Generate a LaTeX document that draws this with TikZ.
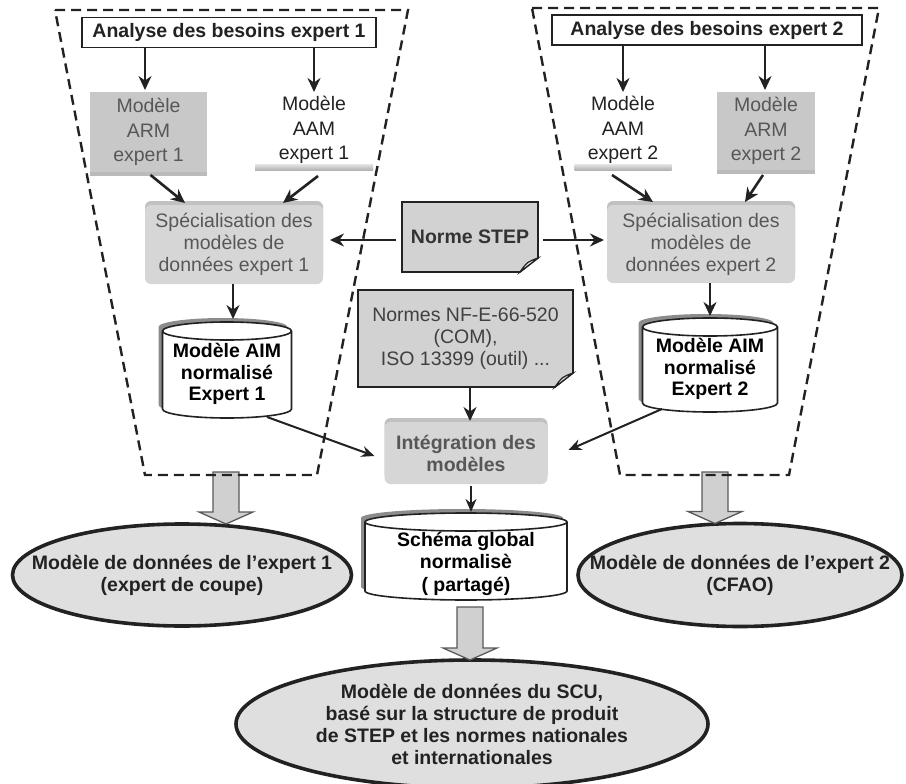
\documentclass[tikz,border=0pt]{standalone}
\usepackage{fontspec}
\setmainfont{Liberation Sans}
\usetikzlibrary{arrows.meta,shapes.geometric,shadows,backgrounds,calc}

\definecolor{ink}{HTML}{222222}
\definecolor{softtext}{HTML}{575757}
\definecolor{armfill}{HTML}{C8C8C8}
\definecolor{boxfill}{HTML}{D6D6D6}
\definecolor{notefill}{HTML}{D2D2D2}
\definecolor{ovalfill}{HTML}{DFDFDF}
\definecolor{fatfill}{HTML}{D0D0D0}
\definecolor{dbshadow}{HTML}{8C8C8C}

% database cylinder drawn from the anchors of an empty node: #1 node, #2 x radius, #3 y radius
\newcommand\dbshape[3]{%
  \begin{scope}[transform canvas={xshift=-4pt,yshift=4pt}]
    \fill[dbshadow] ([yshift=-#3]#1.north west) -- ([yshift=#3]#1.south west)
      arc[start angle=180,end angle=360,x radius=#2,y radius=#3]
      -- ([yshift=-#3]#1.north east)
      arc[start angle=0,end angle=180,x radius=#2,y radius=#3] -- cycle;
  \end{scope}
  \path[dbline] ([yshift=-#3]#1.north west) -- ([yshift=#3]#1.south west)
    arc[start angle=180,end angle=360,x radius=#2,y radius=#3]
    -- ([yshift=-#3]#1.north east)
    arc[start angle=0,end angle=180,x radius=#2,y radius=#3] -- cycle;
  \draw[dbline,fill=none] ([yshift=-#3]#1.north west)
    arc[start angle=180,end angle=360,x radius=#2,y radius=#3];
}

% sheet with a folded lower right corner
\newcommand\noteshape[1]{%
  \path[notesty] (#1.north west) -- (#1.north east) -- ([yshift=14pt]#1.south east)
    -- ([xshift=-18pt]#1.south east) -- (#1.south west) -- cycle;
  \path[foldsty] ([xshift=-18pt]#1.south east)
    .. controls ([xshift=-11pt,yshift=10pt]#1.south east) .. ([yshift=14pt]#1.south east) -- cycle;
}

% wide hollow arrow from coordinate #1 down to the level of point #2
\newcommand\fatarrow[2]{%
  \path[fatarr] let \p1=(#1), \p2=(#2) in
    (\x1-13pt,\y1) -- (\x1+13pt,\y1) -- (\x1+13pt,\y2+12pt) -- (\x1+27pt,\y2+12pt)
    -- (\x1,\y2) -- (\x1-27pt,\y2+12pt) -- (\x1-13pt,\y2+12pt) -- cycle;
}

\begin{document}
\begin{tikzpicture}[x=1pt,y=-1pt,
  every node/.style={inner sep=0pt,outer sep=0pt},
  headbox/.style={draw=ink,line width=1.8pt,fill=white,minimum height=30pt,
    font=\fontsize{19.5}{22}\selectfont\bfseries,text=ink},
  armbox/.style={fill=armfill,text=softtext,align=center,
    font=\fontsize{19.5}{24.5}\selectfont,
    drop shadow={shadow xshift=0pt,shadow yshift=-4pt,fill=black!45,opacity=.6}},
  aambox/.style={text=ink,align=center,font=\fontsize{19.5}{24.5}\selectfont},
  specbox/.style={fill=boxfill,rounded corners=6pt,text=softtext,align=center,
    font=\fontsize{19.5}{22}\selectfont,
    drop shadow={shadow xshift=0pt,shadow yshift=4pt,fill=black!40,opacity=.6}},
  intbox/.style={specbox,font=\fontsize{19.5}{22}\selectfont\bfseries},
  notetext/.style={align=center,text=ink,font=\fontsize{19.5}{22}\selectfont},
  notesty/.style={draw=ink,line width=1.6pt,fill=notefill},
  foldsty/.style={draw=ink,line width=1.2pt,fill=white!85!gray},
  dbline/.style={draw=ink,line width=1.6pt,fill=white},
  dbtext/.style={align=center,text=black,font=\fontsize{19.5}{21.5}\selectfont\bfseries},
  oval/.style={ellipse,draw=ink,line width=3.6pt,fill=ovalfill,inner sep=-40pt,
    align=center,text=ink,font=\fontsize{19.5}{22}\selectfont\bfseries},
  arr/.style={draw=ink,line width=2.6pt,-{Stealth[length=14pt,width=13pt]}},
  thinarr/.style={draw=ink,line width=2pt,-{Stealth[length=13pt,width=11pt]}},
  trap/.style={draw=ink,line width=2.4pt,dash pattern=on 10pt off 6pt},
  fatarr/.style={draw=black!65,line width=1.3pt,fill=fatfill}
]
\useasboundingbox (0,0) rectangle (906,784);
\begin{scope}[on background layer]
  \fill[white] (0,0) rectangle (906,784);
\end{scope}

% ---------- expert 1 ----------
\node[headbox,minimum width=294pt] (a1) at (229,32.5) {Analyse des besoins expert 1};
\node[armbox,minimum width=117pt,minimum height=80pt] (arm1) at (148.5,132) {Modèle\\ARM\\expert 1};
\node[aambox,minimum width=118pt,minimum height=80pt] (aam1) at (314,130) {Modèle\\AAM\\expert 1};
\shade[top color=gray!20,bottom color=gray!60] ([yshift=6pt]aam1.south west) rectangle (aam1.south east);
\node[specbox,minimum width=178pt,minimum height=79pt] (spec1) at (234,244.5)
  {Spécialisation des\\modèles de\\données expert 1};
\node[minimum width=129pt,minimum height=96pt] (cyl1) at (227,370) {};
\dbshape{cyl1}{64.5pt}{9pt}
\node[dbtext] (cyl1t) at ([yshift=-4pt]cyl1.center) {Modèle AIM\\normalisé\\Expert 1};

% ---------- expert 2 ----------
\node[headbox,minimum width=310pt] (a2) at (707,30) {Analyse des besoins expert 2};
\node[aambox,minimum width=97pt,minimum height=80pt] (aam2) at (623,130) {Modèle\\AAM\\expert 2};
\shade[top color=gray!20,bottom color=gray!60] ([yshift=6pt]aam2.south west) rectangle (aam2.south east);
\node[armbox,minimum width=98pt,minimum height=78pt] (arm2) at (766,131) {Modèle\\ARM\\expert 2};
\node[specbox,minimum width=188pt,minimum height=78pt] (spec2) at (701,244)
  {Spécialisation des\\modèles de\\données expert 2};
\node[minimum width=135pt,minimum height=94pt] (cyl2) at (710,365) {};
\dbshape{cyl2}{67.5pt}{9pt}
\node[dbtext] (cyl2t) at ([yshift=-4pt]cyl2.center) {Modèle AIM\\normalisé\\Expert 2};

% ---------- shared standards and integration ----------
\node[notetext,minimum width=136pt,minimum height=70pt,font=\fontsize{19.5}{22}\selectfont\bfseries,text=black!80]
  (step) at (470,237) {Norme STEP};
\node[notetext,minimum width=215pt,minimum height=97pt,text=black!75] (nf) at (465.5,338.5)
  {Normes NF-E-66-520\\(COM),\\ISO 13399 (outil) ...};
\begin{scope}[on background layer]
  \noteshape{step}
  \noteshape{nf}
\end{scope}
\node[intbox,minimum width=163pt,minimum height=62pt] (integ) at (466,453) {Intégration des\\modèles};
\node[minimum width=202pt,minimum height=87pt] (cyl0) at (466,556.5) {};
\dbshape{cyl0}{101pt}{9pt}
\node[dbtext,font=\fontsize{19.5}{22.5}\selectfont\bfseries] (cyl0t) at ([yshift=-7pt]cyl0.center)
  {Schéma global\\normalisè\\( partagé)};

% ---------- resulting data models ----------
\node[oval,minimum width=339pt,minimum height=102pt] (e1) at (182,575)
  {Modèle de données de l’expert 1\\(expert de coupe)};
\node[oval,minimum width=324pt,minimum height=103pt] (e2) at (740,575)
  {Modèle de données de l’expert 2\\(CFAO)};
\node[oval,minimum width=472pt,minimum height=128pt] (e3) at (472,724)
  {Modèle de données du SCU,\\basé sur la structure de produit\\de STEP et les normes nationales\\et internationales};

% ---------- wide hollow arrows ----------
\coordinate (fa1) at (226,472);
\coordinate (fa2) at (715,472);
\coordinate (fa0) at (470,607);
\fatarrow{fa1}{e1.north}
\fatarrow{fa2}{e2.north}
\fatarrow{fa0}{e3.north}

% ---------- dashed expert domains ----------
\draw[trap] (55,10) -- (408,10) -- (317,475) -- (145,475) -- cycle;
\draw[trap] (532,8) -- (879,8) -- (789,475) -- (620,475) -- cycle;

% ---------- connectors ----------
\draw[arr] (a1.south -| 145,0) -- ([yshift=2pt]arm1.north -| 145,0);
\draw[arr] (a1.south -| aam1.north) -- ([yshift=-2pt]aam1.north);
\draw[arr] (a2.south -| aam2.north) -- ([yshift=-2pt]aam2.north);
\draw[arr] (a2.south -| 765,0) -- ([yshift=2pt]arm2.north -| 765,0);

\draw[arr] ([xshift=2pt,yshift=-3pt]arm1.south) -- ([xshift=-49pt,yshift=2pt]spec1.north);
\draw[arr] ([xshift=4pt,yshift=-6pt]aam1.south) -- ([xshift=49pt,yshift=2pt]spec1.north);
\draw[arr] ([xshift=-11pt,yshift=-5pt]aam2.south) -- ([xshift=-48pt,yshift=3pt]spec2.north);
\draw[arr] ([xshift=-3pt,yshift=-5pt]arm2.south) -- ([xshift=44pt,yshift=3pt]spec2.north);

\draw[arr] ([xshift=-6pt,yshift=-3pt]step.west) -- ([xshift=7pt,yshift=-3pt]step.west -| spec1.east);
\draw[arr] ([xshift=5pt,yshift=-3pt]step.east) -- ([xshift=-3pt,yshift=-3pt]step.east -| spec2.west);

\draw[arr] (spec1.south -| 233,0) -- ([yshift=3pt]cyl1.north -| 233,0);
\draw[arr] (spec2.south -| cyl2.north) -- ([yshift=2pt]cyl2.north);
\draw[arr] (nf.south -| 470,0) -- ([yshift=1pt]integ.north -| 470,0);

\draw[thinarr] ([xshift=40pt,yshift=1pt]cyl1.south) -- ([xshift=-10pt,yshift=-3pt]integ.west);
\draw[thinarr] ([xshift=-48pt,yshift=3pt]cyl2.south) -- ([xshift=21pt,yshift=3pt]integ.east);
\draw[thinarr] ([yshift=-2pt]integ.south -| 471,0) -- ([yshift=1pt]cyl0.north -| 471,0);
\end{tikzpicture}
\end{document}
